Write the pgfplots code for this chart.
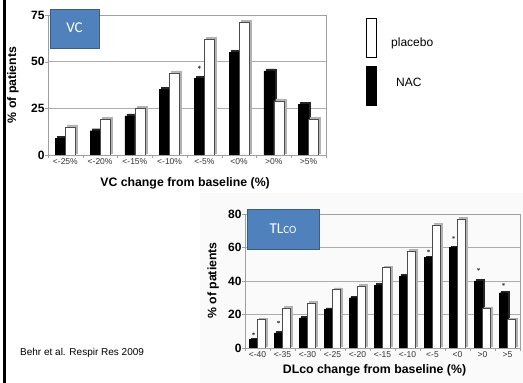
\documentclass[border=0pt]{standalone}
\usepackage{pgfplots}
\pgfplotsset{compat=1.18}
\usepackage{fontspec}
\setmainfont{Liberation Sans}
\newfontfamily\calibri{Carlito}
\definecolor{boxblue}{HTML}{4F81BD}
\definecolor{boxedge}{HTML}{385D8A}
\pgfplotsset{
  common/.style={
    anchor=south west, scale only axis,
    /pgf/number format/assume math mode=true,
    ymin=0,
    major tick length=0pt, minor tick length=3pt, tick align=outside, tick pos=left,
    ymajorgrids, grid style={gray!65, line width=0.6pt},
    axis line style={gray!75},
    minor tick style={gray!75},
    xticklabel style={font=\fontsize{8.5}{9}\selectfont, text=black!80},
    yticklabel style={font=\bfseries\fontsize{12}{12}\selectfont},
    label style={font=\bfseries\fontsize{12.3}{13}\selectfont},
    xlabel style={anchor=center},
    ylabel style={anchor=center},
  },
  shadowN/.style={ybar, fill=black!85, draw=black!85, xshift=2pt, yshift=2pt, forget plot},
  shadowP/.style={ybar, fill=gray!60, draw=gray!60, xshift=2pt, yshift=2pt, forget plot},
  frontN/.style={ybar, fill=black, draw=black},
  frontP/.style={ybar, fill=white, draw=black!70, line width=0.5pt},
}
\begin{document}
\begin{tikzpicture}
\path[use as bounding box] (0,0) rectangle (523pt,383pt);
\fill[black!2] (200pt,0) rectangle (523pt,190pt);
\draw[line width=2.5pt] (4.5pt,0) -- (4.5pt,383pt);

% ---------- top chart: VC ----------
\begin{axis}[common,
  at={(48pt,228pt)}, width=278pt, height=140pt,
  xmin=-0.5, xmax=7.5, ymax=75,
  xtick={0,...,7},
  xticklabels={{<-25\%},{<-20\%},{<-15\%},{<-10\%},{<-5\%},{<0\%},{>0\%},{>5\%}},
  minor xtick={-0.5,0.5,...,7.5},
  ytick={0,25,50,75},
  minor ytick={0,25,50,75},
  xlabel={VC change from baseline (\%)},
  ylabel={\% of patients},
  xlabel style={at={(axis description cs:0.493,-0.2)}},
  ylabel style={at={(axis description cs:-0.126,0.5)}},
  bar width=0.29,
]
\addplot[shadowN, bar shift=-0.145] coordinates {(0,9) (1,13) (2,21) (3,35) (4,41) (5,55) (6,45) (7,27)};
\addplot[shadowP, bar shift=0.145] coordinates {(0,15) (1,19) (2,25) (3,44) (4,62) (5,71) (6,29) (7,19)};
\addplot[frontN, bar shift=-0.145] coordinates {(0,9) (1,13) (2,21) (3,35) (4,41) (5,55) (6,45) (7,27)};
\addplot[frontP, bar shift=0.145] coordinates {(0,15) (1,19) (2,25) (3,44) (4,62) (5,71) (6,29) (7,19)};
\addplot[only marks, mark=asterisk, mark size=1.6pt, black!80] coordinates {(3.855,47)};
\end{axis}

% ---------- bottom chart: TLco ----------
\begin{axis}[common,
  at={(245pt,35pt)}, width=275pt, height=134pt,
  xmin=-0.5, xmax=10.5, ymax=80,
  xtick={0,...,10},
  xticklabels={{<-40},{<-35},{<-30},{<-25},{<-20},{<-15},{<-10},{<-5},{<0},{>0},{>5}},
  minor xtick={-0.5,0.5,...,10.5},
  ytick={0,20,40,60,80},
  minor ytick={0,20,40,60,80},
  xlabel={DLco change from baseline (\%)},
  ylabel={\% of patients},
  xlabel style={at={(axis description cs:0.471,-0.164)}},
  ylabel style={at={(axis description cs:-0.116,0.504)}},
  bar width=0.32,
]
\addplot[shadowN, bar shift=-0.16, xshift=-0.5pt, yshift=-0.5pt] coordinates {(0,5) (1,9) (2,18) (3,23) (4,30) (5,37.5) (6,43) (7,54) (8,60) (9,40) (10,33)};
\addplot[shadowP, bar shift=0.16, xshift=-0.5pt, yshift=-0.5pt] coordinates {(0,17) (1,24) (2,27) (3,35) (4,37) (5,48) (6,58) (7,73.5) (8,77) (9,23.5) (10,17)};
\addplot[frontN, bar shift=-0.16] coordinates {(0,5) (1,9) (2,18) (3,23) (4,30) (5,37.5) (6,43) (7,54) (8,60) (9,40) (10,33)};
\addplot[frontP, bar shift=0.16] coordinates {(0,17) (1,24) (2,27) (3,35) (4,37) (5,48) (6,58) (7,73.5) (8,77) (9,23.5) (10,17)};
\addplot[only marks, mark=asterisk, mark size=1.5pt, black!80] coordinates {(-0.16,8.5) (0.84,15.5) (6.84,58) (7.84,66) (8.84,47) (9.84,38)};
\end{axis}

% ---------- label boxes ----------
\draw[boxedge, fill=boxblue, line width=0.6pt] (50pt,335pt) rectangle (99pt,374pt);
\node[text=white, font=\calibri\fontsize{15}{15}\selectfont] at (74.5pt,355pt) {VC};
\draw[boxedge, fill=boxblue, line width=0.6pt] (247pt,134pt) rectangle (319pt,174pt);
\node[text=white, font=\calibri\fontsize{15}{15}\selectfont] at (283pt,154pt) {TL{\fontsize{11}{11}\selectfont CO}};

% ---------- legend ----------
\draw[black, fill=white, line width=0.7pt] (366pt,326pt) rectangle (376pt,365pt);
\draw[black, fill=black] (366pt,278pt) rectangle (376pt,317pt);
\node[anchor=west, font=\fontsize{12}{12}\selectfont, inner sep=0pt] at (391pt,340pt) {placebo};
\node[anchor=west, font=\fontsize{12}{12}\selectfont, inner sep=0pt] at (396pt,301pt) {NAC};

% ---------- source ----------
\node[anchor=west, font=\fontsize{10}{10}\selectfont, inner sep=0pt] at (20pt,30pt) {Behr et al. Respir Res 2009};
\end{tikzpicture}
\end{document}
